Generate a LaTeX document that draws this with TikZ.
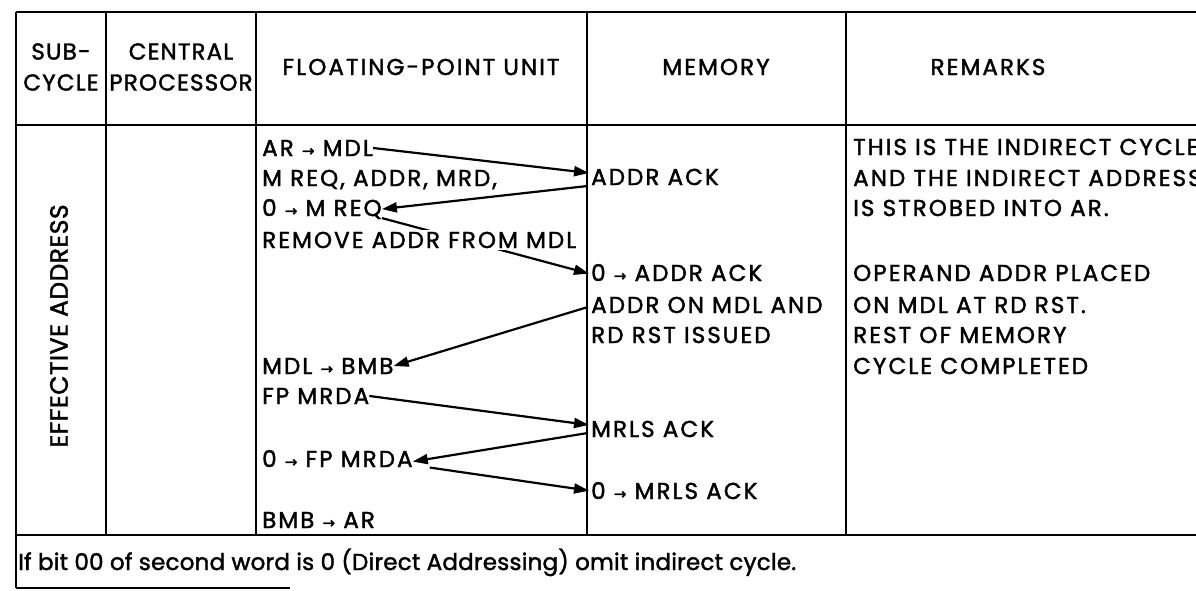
\documentclass[tikz,border=0pt]{standalone}
\usepackage{fontspec}
\setmainfont{Poppins}[LetterSpace=9, FakeBold=1.7]
\newfontfamily\footfont{Poppins}[LetterSpace=1, FakeBold=1.7]
\newfontfamily\narrowfont{Poppins}[LetterSpace=5, FakeBold=1.7]
\newfontfamily\widefont{Poppins}[LetterSpace=2, FakeBold=1.7]
\newfontfamily\symfont{DejaVu Sans}[FakeBold=1.8]
\usetikzlibrary{arrows.meta,calc,backgrounds}
\newcommand{\ra}{{\symfont\fontsize{15}{15}\selectfont →}}
\tikzset{
  rule/.style={line width=2.2pt, draw=black},
  txt/.style={inner sep=0pt, anchor=base west, font=\fontsize{23}{23}\selectfont},
  hdr/.style={inner sep=0pt, align=center, font=\fontsize{23}{31}\selectfont},
  link/.style={line width=2.2pt, -{Triangle[length=15pt,width=10pt]}},
}
\begin{document}
\begin{tikzpicture}[x=1pt,y=-1pt]
\useasboundingbox (0,0) rectangle (1196,591);
\clip (0,0) rectangle (1196,591);
% header
\node[hdr, font=\narrowfont\fontsize{23}{31}\selectfont] (hsub) at (61,67) {SUB-\\CYCLE};
\node[hdr, font=\narrowfont\fontsize{23}{31}\selectfont] (hcp) at (181,67) {CENTRAL\\PROCESSOR};
\node[hdr] (hfpu) at (421,67) {FLOATING-POINT UNIT};
\node[hdr] (hmem) at (716,67) {MEMORY};
\node[hdr] (hrem) at (988,67) {REMARKS};
% subcycle
\node[inner sep=0pt, rotate=90, font=\widefont\fontsize{25}{25}\selectfont] (ea) at (59,326) {EFFECTIVE ADDRESS};
% floating-point unit
\node[txt] (f1) at (262,156) {AR \ra{} MDL};
\node[txt] (f2) at (262,186) {M REQ, ADDR, MRD,};
\node[txt] (f3) at (262,216) {0 \ra{} M REQ};
\node[txt, inner sep=2pt, fill=white] (f4) at (260,248) {REMOVE ADDR FROM MDL};
\node[txt] (f5) at (262,374) {MDL \ra{} BMB};
\node[txt] (f6) at (262,404) {FP MRDA};
\node[txt] (f7) at (262,467) {0 \ra{} FP MRDA};
\node[txt] (f8) at (262,528) {BMB \ra{} AR};
% memory
\node[txt] (m1) at (591,185) {ADDR ACK};
\node[txt] (m2) at (591,281) {0 \ra{} ADDR ACK};
\node[txt] (m3) at (591,313) {ADDR ON MDL AND};
\node[txt] (m4) at (591,343) {RD RST ISSUED};
\node[txt] (m5) at (591,437) {MRLS ACK};
\node[txt] (m6) at (591,499) {0 \ra{} MRLS ACK};
% remarks
\node[txt] (r1) at (853,155) {THIS IS THE INDIRECT CYCLE};
\node[txt] (r2) at (853,186) {AND THE INDIRECT ADDRESS};
\node[txt] (r3) at (853,216) {IS STROBED INTO AR.};
\node[txt] (r4) at (853,281) {OPERAND ADDR PLACED};
\node[txt] (r5) at (853,313) {ON MDL AT RD RST.};
\node[txt] (r6) at (853,343) {REST OF MEMORY};
\node[txt] (r7) at (853,374) {CYCLE COMPLETED};
% footer
\node[txt, font=\footfont\fontsize{23}{23}\selectfont] (foot) at (18,570) {If bit 00 of second word is 0 (Direct Addressing) omit indirect cycle.};
% table rules
\draw[rule] (16,12) -- (1196,12);
\draw[rule] (16,125) -- (1196,125);
\draw[rule] (16,535) -- (1196,535);
\draw[rule] (16,588) -- (290,588);
\draw[rule] (16,12) -- (16,588);
\draw[rule] (106,12) -- (106,535);
\draw[rule] (256,12) -- (256,535);
\draw[rule] (587,12) -- (587,535);
\draw[rule] (846,12) -- (846,535);
% connectors
\begin{pgfonlayer}{background}
\fill[white] (0,0) rectangle (1196,591);
\draw[link] (f1.east) -- ($(m1.west)+(-2,-4)$);
\draw[link] ($(m1.west)+(-3,9)$) -- (f3.east);
\draw[link] ($(f3.east)+(0,9)$) -- ($(m2.west)+(-2,1)$);
\draw[link] ($(m3.west)+(-3,2)$) -- (f5.east);
\draw[link] (f6.east) -- ($(m5.west)+(-2,-4)$);
\draw[link] ($(m5.west)+(-3,4)$) -- ($(f7.east)+(0,3)$);
\draw[link] ($(f7.east)+(17,9)$) -- ($(m6.west)+(-2,0)$);
\end{pgfonlayer}
\end{tikzpicture}
\end{document}
